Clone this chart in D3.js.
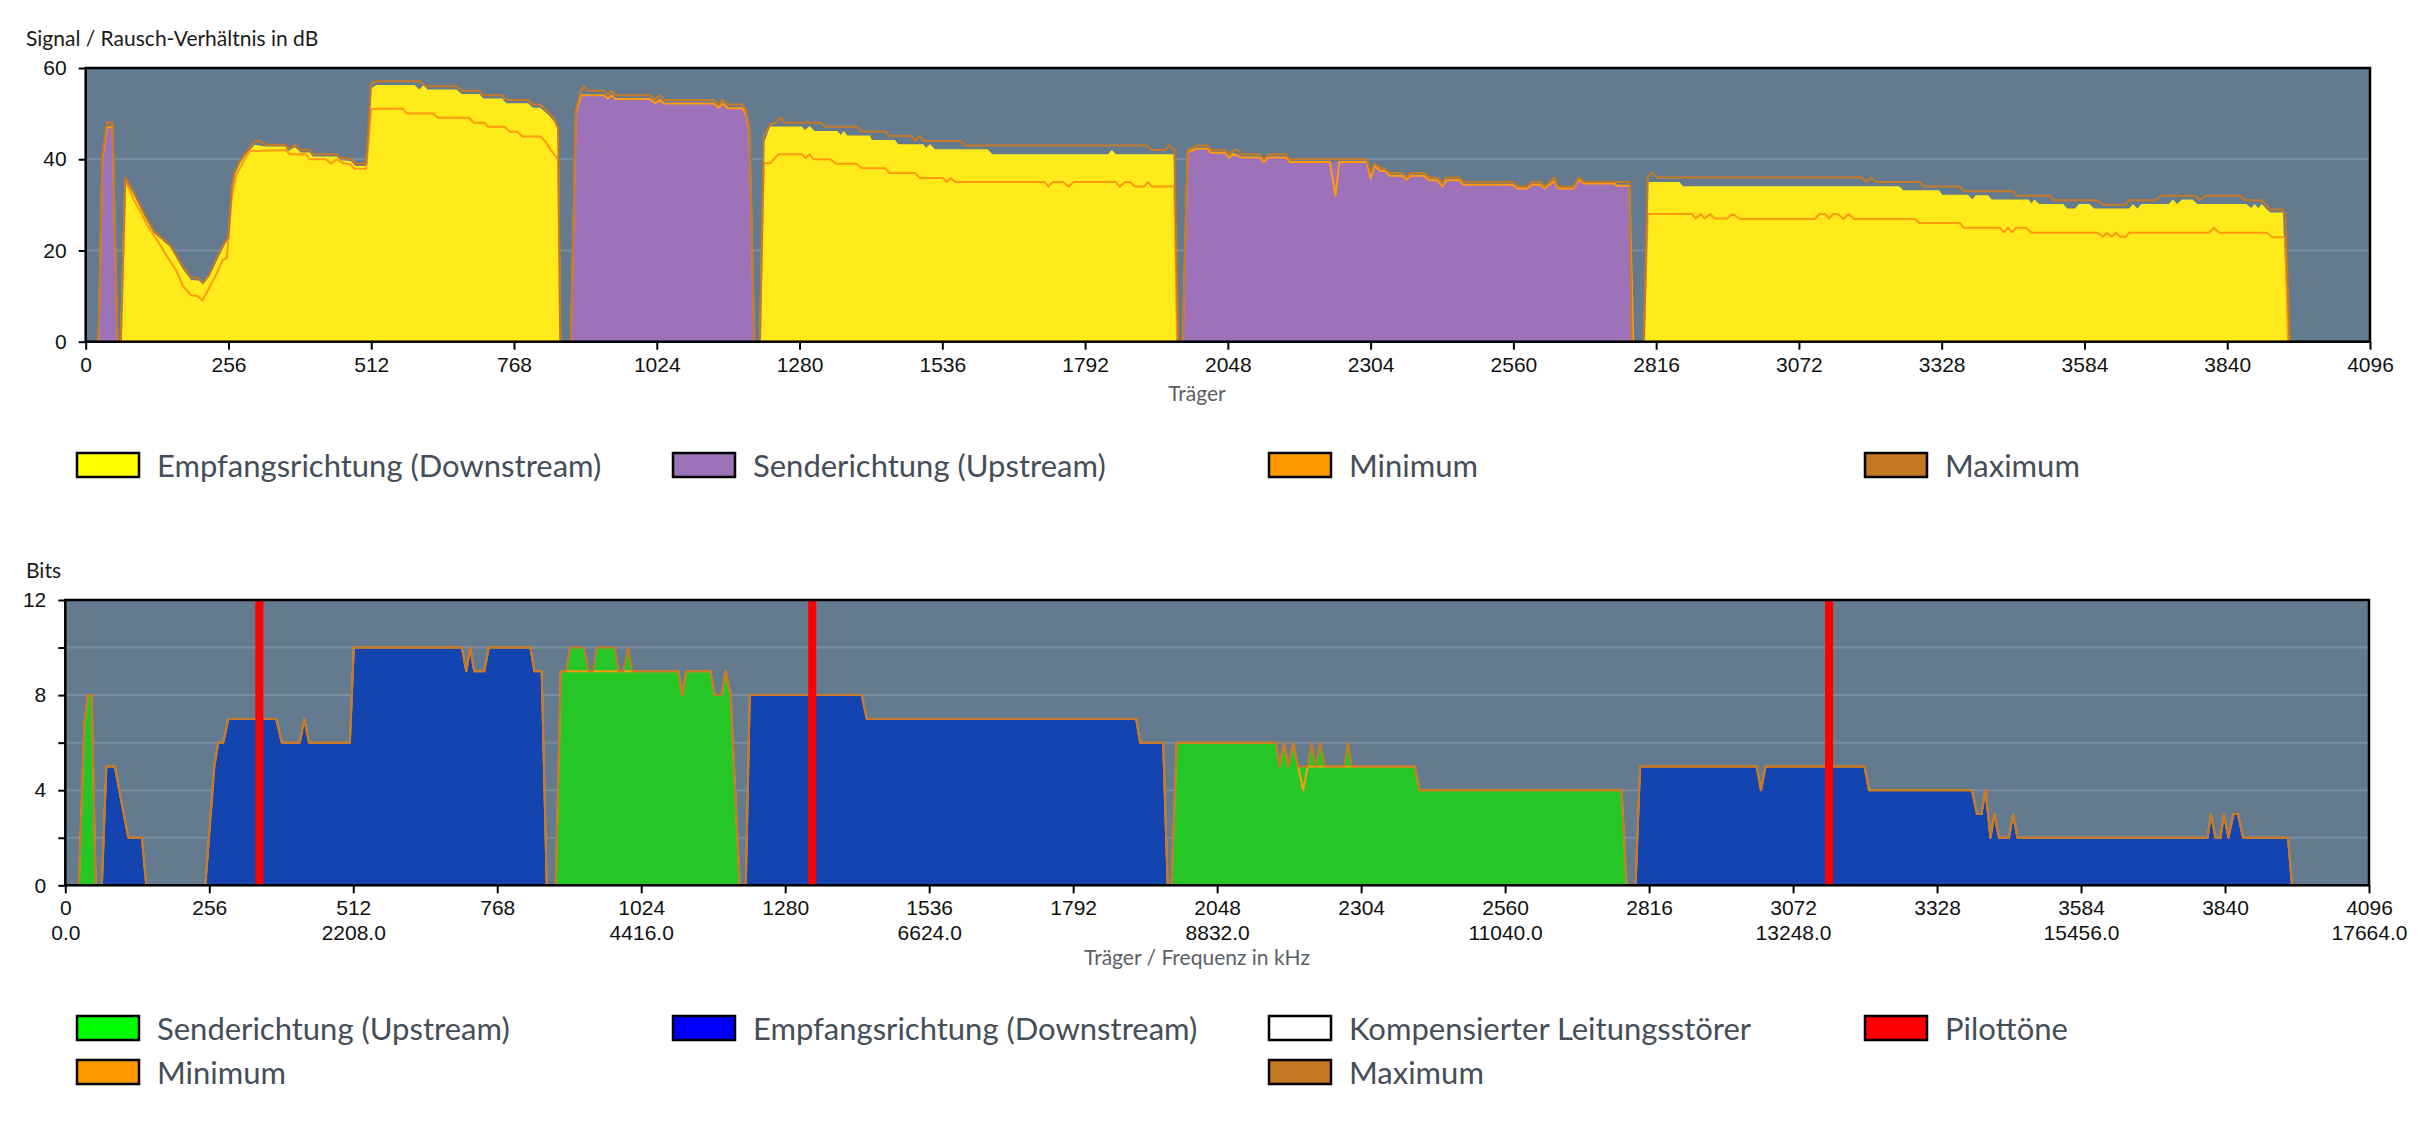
<!DOCTYPE html>
<html>
<head>
<meta charset="utf-8">
<script src="https://cdn.jsdelivr.net/npm/d3@7"></script>
<style>
  body { margin: 0; background: #fff; }
  svg { display: block; font-family: Lato, "Noto Sans", sans-serif; }
</style>
</head>
<body>
<svg id="chart" width="2434" height="1130"></svg>
<script>
// ---- tick labels ----
const carrierTicks = [0, 256, 512, 768, 1024, 1280, 1536, 1792, 2048, 2304, 2560, 2816, 3072, 3328, 3584, 3840, 4096]
const freqTicks = [0, 512, 1024, 1536, 2048, 2560, 3072, 3584, 4096]
const freqLabels = ["0.0", "2208.0", "4416.0", "6624.0", "8832.0", "11040.0", "13248.0", "15456.0", "17664.0"]
const snrTicks = [0, 20, 40, 60]
const snrGrid = [20, 40]
const bitsTicks = [0, 2, 4, 6, 8, 10, 12]
const bitsLabelled = [0, 4, 8, 12]
const bitsGrid = [2, 4, 6, 8, 10]

// ---- SNR (dB) per carrier, null = gap between bands ----
const snrDown = [
  [63, 0], [71, 35.5], [86, 32.3], [102, 28.3], [121, 24], [151, 20.8], [175, 15.8], [189, 13.5], [203, 13.4], [210, 12.6],
  [221, 14.2], [235, 17.8], [249, 21.3], [256, 22.5], [262, 33.5], [267, 36.5], [276, 39], [290, 41.5], [303, 43.2], [322, 42.8],
  [358, 42.8], [363, 41.8], [375, 42.6], [386, 41.5], [402, 41.5], [407, 40.6], [450, 40.6], [457, 39.8], [475, 39.6], [484, 38.5],
  [503, 38.5], [512, 55.5], [521, 56.3], [590, 56.3], [598, 55.3], [606, 56.3], [613, 55.3], [665, 55.3], [674, 54.3], [706, 54.3],
  [713, 53.3], [747, 53.3], [754, 52.3], [793, 52.3], [802, 51.3], [815, 51.3], [829, 49.8], [840, 48.3], [847, 46.3], [851, 0],
  null,
  [1209, 0], [1216, 43.5], [1227, 47.2], [1284, 47.2], [1290, 46.4], [1298, 47.3], [1307, 46.2], [1348, 46.2], [1354, 45.3], [1359, 46.2],
  [1366, 45.2], [1406, 45.2], [1410, 44.2], [1451, 44.2], [1457, 43.3], [1502, 43.3], [1507, 42.5], [1514, 43.3], [1523, 42.2], [1617, 42.2],
  [1626, 41.1], [1833, 41.1], [1840, 42], [1847, 41.1], [1952, 41.1], [1957, 0],
  null,
  [2794, 0], [2801, 35], [2858, 35], [2864, 34.1], [3252, 34.1], [3259, 33.2], [3323, 33.2], [3329, 32.2], [3375, 32.2], [3383, 31.2],
  [3389, 32.1], [3411, 32.1], [3418, 31.2], [3484, 31.2], [3489, 30.3], [3494, 31.2], [3503, 30.2], [3546, 30.2], [3553, 29.2], [3567, 29.2],
  [3574, 30.2], [3593, 30.2], [3601, 29.2], [3664, 29.2], [3671, 30.2], [3679, 29.2], [3686, 30.2], [3735, 30.2], [3743, 31.2], [3750, 30.2],
  [3759, 31.2], [3778, 31.2], [3786, 30.2], [3874, 30.2], [3883, 29.3], [3889, 30.2], [3896, 29.3], [3902, 30.2], [3917, 28.3], [3940, 28.3],
  [3949, 0]
]

const snrDownMax = [
  [63, 0], [71, 36], [86, 32.7], [102, 28.7], [121, 24.5], [151, 21.2], [175, 16.4], [189, 14.1], [203, 13.9], [210, 12.9],
  [221, 14.6], [235, 18.3], [249, 21.7], [256, 22.9], [262, 34], [267, 37], [276, 39.5], [290, 42], [303, 43.9], [313, 44],
  [322, 43.2], [358, 43.2], [363, 42.2], [375, 43.1], [386, 42], [402, 42], [407, 41.1], [450, 41.1], [457, 40.3], [475, 40.1],
  [484, 39], [503, 39], [512, 56.6], [521, 57.1], [600, 57.1], [609, 56], [665, 56], [674, 55], [706, 55], [713, 54],
  [747, 54], [754, 53], [793, 53], [802, 52], [815, 52], [829, 50.4], [840, 49], [847, 46.8], [851, 0],
  null,
  [1209, 0], [1216, 45.3], [1227, 47.5], [1237, 48], [1246, 49.1], [1254, 48], [1319, 48], [1326, 47.1], [1382, 47.1], [1392, 46.1],
  [1434, 46.1], [1440, 45.1], [1481, 45.1], [1487, 44], [1495, 45.1], [1502, 44], [1568, 44], [1577, 43], [1903, 43], [1912, 42],
  [1936, 42], [1943, 43.1], [1952, 42], [1959, 0],
  null,
  [2794, 0], [2801, 36], [2808, 37.1], [2817, 36], [3185, 36], [3193, 35], [3201, 36], [3211, 35], [3288, 35], [3297, 34],
  [3361, 34], [3367, 33], [3456, 33], [3462, 32], [3522, 32], [3529, 31], [3607, 31], [3617, 30], [3658, 30], [3664, 31],
  [3712, 31], [3721, 32], [3783, 32], [3791, 31], [3800, 32], [3864, 32], [3871, 31], [3902, 31], [3917, 29], [3938, 29],
  [3944, 28], [3952, 0]
]

const snrDownMin = [
  [63, 0], [71, 35.4], [86, 31.2], [112, 25.2], [130, 21.9], [148, 18.3], [162, 15.7], [175, 12.1], [189, 10.2], [201, 10],
  [209, 9], [221, 11.7], [235, 15], [246, 18], [253, 18.3], [262, 31.8], [270, 36.5], [281, 39.1], [294, 41.8], [358, 42],
  [366, 41.1], [395, 41.1], [401, 40], [431, 40], [440, 39], [450, 40], [463, 39.1], [475, 38.9], [482, 37.9], [503, 37.9],
  [512, 51], [569, 51.1], [576, 50], [623, 50], [632, 49.1], [687, 49.1], [696, 48], [715, 48], [722, 47.1], [751, 47.1],
  [761, 46], [774, 46], [783, 45], [815, 45], [825, 43.8], [834, 42], [847, 40], [851, 0],
  null,
  [1209, 0], [1216, 39.1], [1227, 39.1], [1242, 41.1], [1284, 41.1], [1291, 40.2], [1298, 41.1], [1305, 40], [1335, 40], [1345, 39],
  [1382, 39], [1392, 38], [1434, 38], [1441, 37], [1487, 37], [1495, 35.9], [1537, 35.9], [1544, 35], [1551, 35.9], [1559, 35],
  [1720, 35], [1726, 34], [1734, 35], [1753, 35], [1762, 34], [1772, 35], [1847, 35], [1854, 34], [1864, 35], [1873, 35],
  [1881, 34], [1898, 34], [1905, 35], [1912, 34], [1952, 34], [1957, 0],
  null,
  [2794, 0], [2801, 28], [2880, 28], [2887, 27], [2896, 28], [2903, 27], [2913, 28], [2921, 27], [2943, 27], [2953, 28],
  [2967, 26.9], [3100, 26.9], [3109, 28], [3119, 28], [3126, 27], [3133, 28], [3142, 28], [3152, 26.9], [3161, 28], [3171, 26.9],
  [3280, 26.9], [3288, 26], [3361, 26], [3367, 25], [3432, 25], [3439, 24], [3447, 25], [3454, 24], [3462, 25], [3479, 25],
  [3489, 23.9], [3607, 23.9], [3617, 23], [3624, 23.9], [3633, 23], [3640, 23.9], [3648, 23], [3658, 23], [3664, 23.9], [3807, 23.9],
  [3816, 25], [3826, 23.9], [3911, 23.9], [3921, 22.9], [3944, 22.9], [3949, 0]
]

const snrUp = [
  [23, 0], [30, 40], [38, 47], [48, 47], [57, 0],
  null,
  [870, 0], [879, 50], [888, 54], [930, 54], [936, 53.3], [943, 54], [950, 53.2], [1012, 53.2], [1021, 52.3], [1030, 53],
  [1037, 52.2], [1126, 52.2], [1135, 51.3], [1142, 52.2], [1152, 51.2], [1177, 51.2], [1184, 50], [1190, 46], [1199, 0],
  null,
  [1967, 0], [1976, 41.5], [1992, 42.3], [2011, 42.3], [2018, 41.4], [2042, 41.4], [2051, 40.3], [2058, 41.2], [2072, 40.4], [2105, 40.4],
  [2112, 39.4], [2121, 40.4], [2152, 40.4], [2159, 39.4], [2297, 39.4], [2304, 36], [2311, 38.6], [2321, 37.4], [2330, 37.4], [2338, 36.4],
  [2361, 36.4], [2369, 35.5], [2376, 36.4], [2400, 36.4], [2409, 35.4], [2423, 35.4], [2433, 34], [2440, 35.4], [2463, 35.4], [2470, 34.4],
  [2559, 34.4], [2567, 33.6], [2585, 33.6], [2593, 34.4], [2609, 34.4], [2616, 33.6], [2633, 35.2], [2640, 33.6], [2668, 33.6], [2677, 35.5],
  [2687, 34.7], [2740, 34.7], [2746, 34.2], [2768, 34.2], [2775, 0]
]

const snrUpMax = [
  [23, 0], [30, 41], [38, 48], [48, 48], [57, 0],
  null,
  [870, 0], [879, 50.8], [888, 55], [894, 56], [900, 55], [930, 55], [936, 54.2], [943, 55], [950, 54], [1012, 54],
  [1021, 53.1], [1030, 54], [1037, 53], [1126, 53], [1135, 52], [1142, 53], [1152, 52], [1177, 52], [1184, 50.8], [1190, 46.8],
  [1199, 0],
  null,
  [1967, 0], [1976, 42], [1992, 43], [2011, 43], [2018, 42], [2042, 42], [2051, 41.1], [2058, 42], [2065, 42], [2072, 41.1],
  [2105, 41.1], [2112, 40], [2121, 41.1], [2152, 41.1], [2159, 40], [2297, 40], [2304, 37], [2311, 39.1], [2321, 38], [2330, 38],
  [2338, 37], [2361, 37], [2369, 36], [2376, 37], [2400, 37], [2409, 36], [2423, 36], [2433, 35], [2440, 36], [2463, 36],
  [2470, 35], [2559, 35], [2567, 34], [2585, 34], [2593, 35], [2609, 35], [2616, 34], [2633, 36], [2640, 34], [2668, 34],
  [2677, 36], [2687, 35], [2768, 35], [2772, 0]
]

const snrUpMin = [
  [23, 0], [30, 40], [38, 47], [48, 47], [57, 0],
  null,
  [870, 0], [879, 50], [888, 54], [930, 54], [936, 53.3], [943, 54], [950, 53.2], [1012, 53.2], [1021, 52.3], [1030, 53],
  [1037, 52.2], [1126, 52.2], [1135, 51.3], [1142, 52.2], [1152, 51.2], [1177, 51.2], [1184, 50], [1190, 46], [1199, 0],
  null,
  [1967, 0], [1976, 41.5], [1992, 42.3], [2011, 42.3], [2018, 41.4], [2042, 41.4], [2051, 40.3], [2058, 41.2], [2072, 40.4], [2105, 40.4],
  [2112, 39.4], [2121, 40.4], [2152, 40.4], [2159, 39.4], [2231, 39.4], [2241, 32], [2248, 39.4], [2297, 39.4], [2304, 35.8], [2311, 38.6],
  [2321, 37.4], [2330, 37.4], [2338, 36.4], [2361, 36.4], [2369, 35.5], [2376, 36.4], [2400, 36.4], [2409, 35.4], [2423, 35.4], [2433, 34],
  [2440, 35.4], [2463, 35.4], [2470, 34.4], [2559, 34.4], [2567, 33.6], [2585, 33.6], [2593, 34.4], [2609, 34.4], [2616, 33.6], [2633, 35.2],
  [2640, 33.6], [2668, 33.6], [2677, 35.5], [2687, 34.7], [2740, 34.7], [2746, 34.2], [2768, 34.2], [2775, 0]
]

// ---- bits per carrier ----
const bitsDown = [
  [65, 0], [73, 5], [88, 5], [112, 2], [136, 2], [144, 0],
  null,
  [249, 0], [265, 5], [272, 6], [281, 6], [290, 7], [375, 7], [385, 6], [417, 6], [425, 7], [433, 6],
  [506, 6], [513, 10], [705, 10], [713, 9], [720, 10], [727, 9], [745, 9], [753, 10], [827, 10], [834, 9],
  [847, 9], [856, 0],
  null,
  [1210, 0], [1217, 8], [1416, 8], [1425, 7], [1904, 7], [1911, 6], [1952, 6], [1960, 0],
  null,
  [2792, 0], [2800, 5], [3007, 5], [3015, 4], [3023, 5], [3199, 5], [3207, 4], [3390, 4], [3399, 3], [3407, 3],
  [3414, 4], [3423, 2], [3430, 3], [3438, 2], [3456, 2], [3463, 3], [3471, 2], [3809, 2], [3815, 3], [3823, 2],
  [3832, 2], [3838, 3], [3846, 2], [3855, 3], [3863, 3], [3872, 2], [3952, 2], [3959, 0]
]

const bitsUp = [
  [24, 0], [34, 6.8], [40, 8], [47, 8], [54, 0],
  null,
  [872, 0], [881, 9], [890, 9], [898, 10], [922, 10], [931, 9], [938, 9], [945, 10], [977, 10], [984, 9],
  [992, 9], [1001, 10], [1008, 9], [1090, 9], [1097, 8], [1104, 9], [1147, 9], [1155, 8], [1167, 8], [1174, 9],
  [1183, 8], [1199, 0],
  null,
  [1967, 0], [1976, 6], [2153, 6], [2159, 5], [2167, 6], [2175, 5], [2183, 6], [2192, 5], [2209, 5], [2216, 6],
  [2223, 5], [2231, 6], [2240, 5], [2274, 5], [2280, 6], [2288, 5], [2399, 5], [2408, 4], [2767, 4], [2776, 0]
]

const bitsUpMin = [
  [24, 0], [34, 6.8], [40, 8], [47, 8], [54, 0],
  null,
  [872, 0], [881, 9], [1090, 9], [1097, 8], [1104, 9], [1147, 9], [1155, 8], [1167, 8], [1174, 9], [1183, 8],
  [1199, 0],
  null,
  [1967, 0], [1976, 6], [2153, 6], [2159, 5], [2167, 6], [2175, 5], [2183, 6], [2192, 5], [2201, 4], [2209, 5],
  [2240, 5], [2399, 5], [2408, 4], [2767, 4], [2776, 0]
]

const pilotTones = [345, 1328, 3136]

// ---- legends ----
const snrLegend = [
  { label: "Empfangsrichtung (Downstream)", color: "#ffff00" },
  { label: "Senderichtung (Upstream)", color: "#9b72b8" },
  { label: "Minimum", color: "#ff9900" },
  { label: "Maximum", color: "#c47822" }
]
const bitsLegend = [
  { label: "Senderichtung (Upstream)", color: "#00ff00" },
  { label: "Empfangsrichtung (Downstream)", color: "#0000ff" },
  { label: "Kompensierter Leitungsstörer", color: "#ffffff" },
  { label: "Pilottöne", color: "#ff0000" },
  { label: "Minimum", color: "#ff9900" },
  { label: "Maximum", color: "#c47822" }
]

const colors = {
  background: "#647a8f",
  grid: "#7a8da1",
  down: "#ffea1b",
  up: "#9d72b8",
  bitsDown: "#1444b0",
  bitsUp: "#27c627",
  pilot: "#ff0000",
  min: "#ff9a10",
  max: "#c67a28"
}

const svg = d3.select("#chart")

function setupPanel(p) {
  const x = d3.scaleLinear().domain([0, 4096]).range([p.left, p.right])
  const y = d3.scaleLinear().domain(p.yDomain).range([p.bottom, p.top])
  const g = svg.append("g")

  g.append("rect")
    .attr("x", p.left).attr("y", p.top)
    .attr("width", p.right - p.left).attr("height", p.bottom - p.top)
    .attr("fill", colors.background)

  g.selectAll("line.grid").data(p.grid).join("line")
    .attr("class", "grid")
    .attr("x1", p.left).attr("x2", p.right)
    .attr("y1", d => y(d)).attr("y2", d => y(d))
    .attr("stroke", colors.grid).attr("stroke-width", 2)

  const area = d3.area().defined(d => d != null)
    .x(d => x(d[0])).y0(y(0)).y1(d => y(d[1]))
  const line = d3.line().defined(d => d != null)
    .x(d => x(d[0])).y(d => y(d[1]))

  return { x, y, g, area, line }
}

function finishPanel(p, s) {
  const { x, y, g } = s

  // y axis
  const yAxis = g.append("g")
    .attr("transform", `translate(${p.left},0)`)
    .call(d3.axisLeft(y).tickValues(p.yTicks).tickSize(7).tickPadding(12).tickFormat(p.yFormat))
  yAxis.select(".domain").remove()
  yAxis.selectAll("line").attr("stroke", "#000").attr("stroke-width", 2)
  yAxis.selectAll("text").attr("font-size", 21).attr("fill", "#111")

  // x axis
  const xAxis = g.append("g")
    .attr("transform", `translate(0,${p.bottom})`)
    .call(d3.axisBottom(x).tickValues(carrierTicks).tickSize(8).tickPadding(7).tickFormat(d3.format("d")))
  xAxis.select(".domain").remove()
  xAxis.selectAll("line").attr("stroke", "#000").attr("stroke-width", 2)
  xAxis.selectAll("text").attr("font-size", 21).attr("fill", "#111")

  // frame
  g.append("rect")
    .attr("x", p.left).attr("y", p.top)
    .attr("width", p.right - p.left).attr("height", p.bottom - p.top)
    .attr("fill", "none").attr("stroke", "#000").attr("stroke-width", 2.5)

  g.append("text")
    .attr("x", 26).attr("y", p.titleY)
    .attr("font-size", 21).attr("fill", "#1a1a1a")
    .text(p.title)

  g.append("text")
    .attr("x", 1197).attr("y", p.axisTitleY)
    .attr("text-anchor", "middle")
    .attr("font-size", 21).attr("fill", "#5a5f66")
    .text(p.axisTitle)
}

function drawLegend(items, rows) {
  const colX = [77, 673, 1269, 1865]
  const g = svg.append("g")
  items.forEach((item, i) => {
    const col = i < 4 ? i : (i === 4 ? 0 : 2)
    const rowY = i < 4 ? rows[0] : rows[1]
    g.append("rect")
      .attr("x", colX[col]).attr("y", rowY)
      .attr("width", 62).attr("height", 24)
      .attr("fill", item.color).attr("stroke", "#000").attr("stroke-width", 2.5)
    g.append("text")
      .attr("x", colX[col] + 80).attr("y", rowY + 24)
      .attr("font-size", 31).attr("fill", "#454e58")
      .text(item.label)
  })
}

// ---- SNR panel ----
const snrPanel = {
  left: 85.7, right: 2370, top: 68, bottom: 341.7,
  yDomain: [0, 60], yTicks: snrTicks, yFormat: d => d, grid: snrGrid,
  title: "Signal / Rausch-Verhältnis in dB", titleY: 46,
  axisTitle: "Träger", axisTitleY: 401
}
const s1 = setupPanel(snrPanel)
s1.g.append("path").datum(snrDown).attr("d", s1.area).attr("fill", colors.down)
s1.g.append("path").datum(snrUp).attr("d", s1.area).attr("fill", colors.up)
;[[snrDownMin, colors.min], [snrUpMin, colors.min], [snrDownMax, colors.max], [snrUpMax, colors.max]].forEach(([data, c]) => {
  s1.g.append("path").datum(data).attr("d", s1.line)
    .attr("fill", "none").attr("stroke", c).attr("stroke-width", 2).attr("stroke-linejoin", "round")
})
finishPanel(snrPanel, s1)
drawLegend(snrLegend, [453])

// ---- Bits panel ----
const bitsPanel = {
  left: 65.3, right: 2369, top: 600, bottom: 885.3,
  yDomain: [0, 12], yTicks: bitsTicks, yFormat: d => bitsLabelled.includes(d) ? d : "", grid: bitsGrid,
  title: "Bits", titleY: 578,
  axisTitle: "Träger / Frequenz in kHz", axisTitleY: 965
}
const s2 = setupPanel(bitsPanel)
s2.g.append("path").datum(bitsDown).attr("d", s2.area).attr("fill", colors.bitsDown)
s2.g.append("path").datum(bitsUp).attr("d", s2.area).attr("fill", colors.bitsUp)
;[[bitsDown, colors.min], [bitsUpMin, colors.min], [bitsDown, colors.max], [bitsUp, colors.max]].forEach(([data, c]) => {
  s2.g.append("path").datum(data).attr("d", s2.line)
    .attr("fill", "none").attr("stroke", c).attr("stroke-width", 2).attr("stroke-linejoin", "round")
})
s2.g.selectAll("line.pilot").data(pilotTones).join("line")
  .attr("class", "pilot")
  .attr("x1", d => s2.x(d)).attr("x2", d => s2.x(d))
  .attr("y1", bitsPanel.top).attr("y2", bitsPanel.bottom)
  .attr("stroke", colors.pilot).attr("stroke-width", 8)
finishPanel(bitsPanel, s2)

// frequency labels, second row under the carrier ticks
const freqAxis = s2.g.append("g")
  .attr("transform", `translate(0,${bitsPanel.bottom})`)
  .call(d3.axisBottom(s2.x).tickValues(freqTicks).tickSize(0).tickPadding(40)
    .tickFormat((d, i) => freqLabels[i]))
freqAxis.select(".domain").remove()
freqAxis.selectAll("text").attr("font-size", 21).attr("fill", "#111")

drawLegend(bitsLegend, [1016, 1060])
</script>
</body>
</html>
